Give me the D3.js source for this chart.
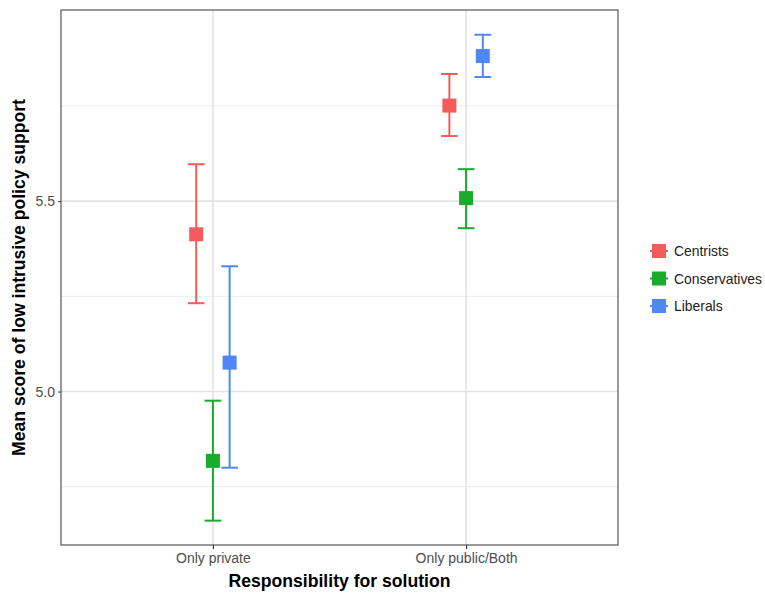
<!DOCTYPE html>
<html>
<head>
<meta charset="utf-8">
<script src="https://cdn.jsdelivr.net/npm/d3@7"></script>
<style>
  body { margin: 0; background: #fff; }
  svg { font-family: "Liberation Sans", Arial, sans-serif; }
</style>
</head>
<body>
<div id="chart"></div>
<script>
const categories = ['Only private', 'Only public/Both'];
const groups = ['Centrists', 'Conservatives', 'Liberals'];
const colors = ['#F35C5A', '#18AB2C', '#4F87F6'];

// mean, lower, upper per group, in category order
const means = {
    Centrists: [5.413, 5.751],
    Conservatives: [4.818, 5.508],
    Liberals: [5.076, 5.881]
};
const lowers = {
    Centrists: [5.232, 5.671],
    Conservatives: [4.661, 5.429],
    Liberals: [4.800, 5.826]
};
const uppers = {
    Centrists: [5.597, 5.834],
    Conservatives: [4.976, 5.584],
    Liberals: [5.329, 5.937]
};
const yTicks = [5.0, 5.5];
const yMinor = [4.75, 5.25, 5.75];

const width = 765;
const height = 600;
const margin = { left: 61, right: 147, top: 10, bottom: 55 };

const svg = d3.select('#chart')
    .append('svg')
    .attr('width', width)
    .attr('height', height);

const x = d3.scaleLinear()
    .domain([0.4, 2.6])
    .range([margin.left, width - margin.right]);

const y = d3.scaleLinear()
    .domain([4.597, 6.002])
    .range([height - margin.bottom, margin.top]);

const dodge = d3.scaleLinear()
    .domain([0, 2])
    .range([-0.066, 0.066]);

const g = svg.append('g');

// grid
g.selectAll('.minor')
    .data(yMinor)
    .join('line')
    .attr('x1', x(0.4)).attr('x2', x(2.6))
    .attr('y1', d => y(d)).attr('y2', d => y(d))
    .attr('stroke', '#ebebeb').attr('stroke-width', 1);

g.selectAll('.major')
    .data(yTicks)
    .join('line')
    .attr('x1', x(0.4)).attr('x2', x(2.6))
    .attr('y1', d => y(d)).attr('y2', d => y(d))
    .attr('stroke', '#e3e3e3').attr('stroke-width', 1.6);

g.selectAll('.vgrid')
    .data(categories)
    .join('line')
    .attr('x1', (d, i) => x(i + 1)).attr('x2', (d, i) => x(i + 1))
    .attr('y1', y(4.597)).attr('y2', y(6.002))
    .attr('stroke', '#e3e3e3').attr('stroke-width', 1.6);

// error bars and points
const capHalf = 0.033;
groups.forEach((grp, gi) => {
    const col = colors[gi];
    categories.forEach((cat, ci) => {
        const cx = ci + 1 + dodge(gi);
        g.append('line')
            .attr('x1', x(cx)).attr('x2', x(cx))
            .attr('y1', y(lowers[grp][ci])).attr('y2', y(uppers[grp][ci]))
            .attr('stroke', col).attr('stroke-width', 2);
        [lowers[grp][ci], uppers[grp][ci]].forEach(v => {
            g.append('line')
                .attr('x1', x(cx - capHalf)).attr('x2', x(cx + capHalf))
                .attr('y1', y(v)).attr('y2', y(v))
                .attr('stroke', col).attr('stroke-width', 2);
        });
        g.append('rect')
            .attr('x', x(cx) - 7).attr('y', y(means[grp][ci]) - 7)
            .attr('width', 14).attr('height', 14)
            .attr('fill', col);
    });
});

// panel border
g.append('rect')
    .attr('x', x(0.4)).attr('y', y(6.002))
    .attr('width', x(2.6) - x(0.4))
    .attr('height', y(4.597) - y(6.002))
    .attr('fill', 'none')
    .attr('stroke', '#555').attr('stroke-width', 1.2);

// axes
const xAxis = svg.append('g')
    .attr('transform', `translate(0,${y(4.597)})`)
    .call(d3.axisBottom(x).tickValues([1, 2]).tickFormat((d, i) => categories[i]).tickSize(4).tickPadding(4));
xAxis.select('.domain').remove();
xAxis.selectAll('line').attr('stroke', '#333').attr('stroke-width', 1.2);
xAxis.selectAll('text').attr('font-size', 14).attr('fill', '#4d4d4d').attr('font-family', null);

const yAxis = svg.append('g')
    .attr('transform', `translate(${x(0.4)},0)`)
    .call(d3.axisLeft(y).tickValues(yTicks).tickFormat(d3.format('.1f')).tickSize(3).tickPadding(3));
yAxis.select('.domain').remove();
yAxis.selectAll('line').attr('stroke', '#333');
yAxis.selectAll('text').attr('font-size', 14).attr('fill', '#4d4d4d').attr('font-family', null);

svg.append('text')
    .attr('x', (x(0.4) + x(2.6)) / 2)
    .attr('y', 587)
    .attr('text-anchor', 'middle')
    .attr('font-size', 17.6).attr('font-weight', 'bold')
    .text('Responsibility for solution');

svg.append('text')
    .attr('transform', `translate(25,${(y(4.597) + y(6.002)) / 2}) rotate(-90)`)
    .attr('text-anchor', 'middle')
    .attr('font-size', 17.6).attr('font-weight', 'bold')
    .text('Mean score of low intrusive policy support');

// legend
const legend = svg.append('g').attr('transform', 'translate(650,251)');
groups.forEach((grp, gi) => {
    const row = legend.append('g').attr('transform', `translate(0,${gi * 27.5})`);
    row.append('line')
        .attr('x1', 0).attr('x2', 18).attr('y1', 0).attr('y2', 0)
        .attr('stroke', colors[gi]).attr('stroke-width', 2);
    row.append('rect')
        .attr('x', 2).attr('y', -7).attr('width', 14).attr('height', 14)
        .attr('fill', colors[gi]);
    row.append('text')
        .attr('x', 24).attr('y', 5)
        .attr('font-size', 13.9).attr('fill', '#222')
        .text(grp);
});
</script>
</body>
</html>
